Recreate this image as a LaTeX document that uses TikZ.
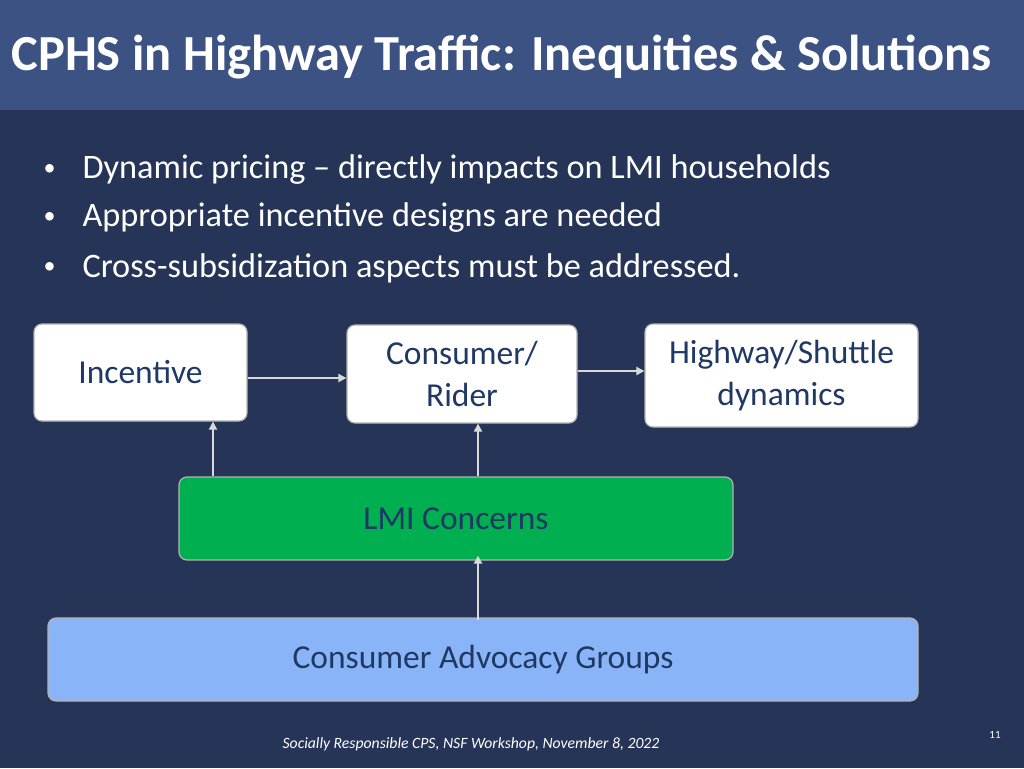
\documentclass[tikz,border=0pt]{standalone}
\usepackage{fontspec}
\setmainfont{Carlito}
\usetikzlibrary{arrows.meta,positioning}
\definecolor{slidebg}{HTML}{253457}
\definecolor{titlebar}{HTML}{3B5283}
\definecolor{lmigreen}{HTML}{00B050}
\definecolor{advblue}{HTML}{8AB4F8}
\definecolor{advtext}{HTML}{1F3864}
\definecolor{arrowgray}{HTML}{D9D9D9}
\tikzset{
  box/.style={draw=gray!60, line width=1.2pt, rounded corners=8pt, fill=white, text=advtext,
    align=center, font=\fontsize{33.5}{42}\selectfont, inner sep=0pt},
  bullet/.style={anchor=west, text=white, font=\fontsize{34.3}{40}\selectfont},
  link/.style={-{Triangle[length=8pt,width=8pt]}, arrowgray, line width=2.5pt}}
\begin{document}
\begin{tikzpicture}[x=1pt,y=-1pt]
\useasboundingbox (0,0) rectangle (1024,768);
\fill[slidebg] (0,0) rectangle (1024,768);
\fill[titlebar] (0,0) rectangle (1024,110);
\node (title) [anchor=west, text=white, font=\fontsize{50.5}{56}\selectfont\bfseries] at (8,57)
  {CPHS in Highway Traffic: Inequities \& Solutions};

% bullets
\foreach \y/\t in {170/{Dynamic pricing -- directly impacts on LMI households},
                   218/{Appropriate incentive designs are needed},
                   268/{Cross-subsidization aspects must be addressed.}} {
  \node [bullet, font=\fontsize{24}{28}\selectfont] at (40,\y) {\textbullet};
  \node [bullet] at (79,\y) {\t};
}

% boxes
\node (incentive) [box, minimum width=213pt, minimum height=97pt] at (140.5,372.5) {Incentive};
\node (rider) [box, minimum width=230pt, minimum height=98pt] at (462,374) {Consumer/\\Rider};
\node (highway) [box, minimum width=273pt, minimum height=103pt] at (781.5,375.5) {Highway/Shuttle\\dynamics};
\node (lmi) [box, fill=lmigreen, minimum width=554pt, minimum height=83pt] at (456,518.5) {LMI Concerns};
\node (groups) [box, fill=advblue, minimum width=870pt, minimum height=83pt] at (483,659.5) {Consumer Advocacy Groups};

% connectors
\draw [link] (incentive.east |- 0,378) -- (rider.west |- 0,378);
\draw [link] (rider.east |- 0,371) -- (highway.west |- 0,371);
\draw [link] (lmi.north -| 213,0) -- (incentive.south -| 213,0);
\draw [link] (lmi.north -| 478,0) -- (rider.south -| 478,0);
\draw [link] ([yshift=-3pt]groups.north -| 478,0) -- ([yshift=5pt]lmi.south -| 478,0);

% footer
\node (footer) [text=white, font=\fontsize{15.7}{18}\selectfont\itshape] at (471,744)
  {Socially Responsible CPS, NSF Workshop, November 8, 2022};
\node (page) [text=white, font=\fontsize{11}{13}\selectfont] at (995,735) {11};
\end{tikzpicture}
\end{document}
